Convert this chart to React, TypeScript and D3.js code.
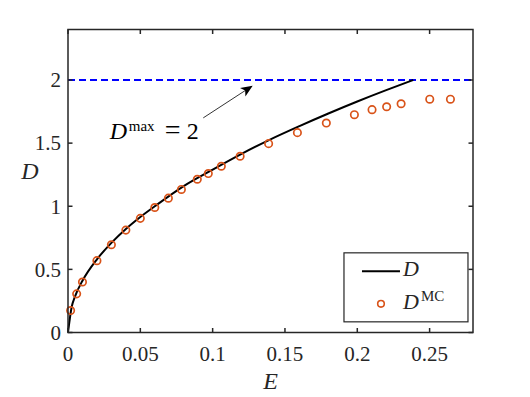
import React, { useEffect, useRef } from "react";
import * as d3 from "d3";

// model curve D(E)
const curveE = [0, 0.0025, 0.005, 0.01, 0.02, 0.03, 0.04, 0.05, 0.06, 0.08, 0.1, 0.12, 0.14, 0.16, 0.18, 0.2, 0.22, 0.2387];
const curveD = [0, 0.2, 0.29, 0.41, 0.58, 0.71, 0.82, 0.915, 1.0, 1.16, 1.29, 1.415, 1.53, 1.635, 1.735, 1.83, 1.92, 2.0];

// Monte Carlo points
const mcE = [0.0018, 0.006, 0.01, 0.02, 0.03, 0.04, 0.05, 0.06, 0.0694, 0.0784, 0.0894, 0.097, 0.106, 0.119, 0.1387, 0.1586, 0.1786, 0.198, 0.2102, 0.2203, 0.2303, 0.2501, 0.2644];
const mcD = [0.174, 0.306, 0.4, 0.569, 0.695, 0.811, 0.904, 0.99, 1.064, 1.133, 1.214, 1.259, 1.317, 1.396, 1.496, 1.583, 1.659, 1.725, 1.765, 1.788, 1.812, 1.848, 1.848];

const xTicks = [0, 0.05, 0.1, 0.15, 0.2, 0.25];
const xTickLabels = ["0", "0.05", "0.1", "0.15", "0.2", "0.25"];
const yTicks = [0, 0.5, 1, 1.5, 2];
const yTickLabels = ["0", "0.5", "1", "1.5", "2"];
const dMax = 2;

const W = 530;
const H = 397;
const FONT = "'Liberation Serif', 'Times New Roman', serif";
const AXIS = "#262626";
const ORANGE = "#D95319";

export default function App() {
  const ref = useRef<SVGSVGElement>(null);

  useEffect(() => {
    const svg = d3.select(ref.current);
    svg.selectAll("*").remove();

    const margin = { left: 68, right: 57, top: 29.5, bottom: 64.5 };
    const width = W - margin.left - margin.right;
    const height = H - margin.top - margin.bottom;

    const x = d3.scaleLinear().domain([0, 0.28]).range([0, width]);
    const y = d3.scaleLinear().domain([0, 2.4]).range([height, 0]);

    const defs = svg.append("defs");
    defs.append("marker")
      .attr("id", "arrow")
      .attr("viewBox", "0 0 10 10")
      .attr("refX", 9)
      .attr("refY", 5)
      .attr("markerWidth", 12)
      .attr("markerHeight", 12)
      .attr("markerUnits", "userSpaceOnUse")
      .attr("orient", "auto")
      .append("path")
      .attr("d", "M0,0.8 L10,5 L0,9.2 L2.5,5 Z")
      .attr("fill", "#000");

    const g = svg.append("g")
      .attr("transform", `translate(${margin.left},${margin.top})`)
      .style("font-family", FONT);

    // dashed D^max line
    g.append("line")
      .attr("x1", x(0))
      .attr("x2", x(0.28))
      .attr("y1", y(dMax))
      .attr("y2", y(dMax))
      .attr("stroke", "#0000ff")
      .attr("stroke-width", 2)
      .attr("stroke-dasharray", "7,4");

    // curve
    const line = d3.line<number>()
      .x((_, i) => x(curveE[i]))
      .y(d => y(d))
      .curve(d3.curveMonotoneX);

    g.append("path")
      .datum(curveD)
      .attr("d", line)
      .attr("fill", "none")
      .attr("stroke", "#000")
      .attr("stroke-width", 2);

    // MC markers
    g.selectAll("circle.mc")
      .data(mcD)
      .enter()
      .append("circle")
      .attr("class", "mc")
      .attr("cx", (_, i) => x(mcE[i]))
      .attr("cy", d => y(d))
      .attr("r", 3.7)
      .attr("fill", "none")
      .attr("stroke", ORANGE)
      .attr("stroke-width", 1.7);

    // axes box with inward ticks
    const tickLen = 4.5;
    const axisG = g.append("g").attr("stroke", AXIS).attr("stroke-width", 1.5).attr("fill", "none");
    axisG.append("rect").attr("x", 0).attr("y", 0).attr("width", width).attr("height", height);
    xTicks.forEach(t => {
      axisG.append("line").attr("x1", x(t)).attr("x2", x(t)).attr("y1", height).attr("y2", height - tickLen);
      axisG.append("line").attr("x1", x(t)).attr("x2", x(t)).attr("y1", 0).attr("y2", tickLen);
    });
    yTicks.forEach(t => {
      axisG.append("line").attr("x1", 0).attr("x2", tickLen).attr("y1", y(t)).attr("y2", y(t));
      axisG.append("line").attr("x1", width).attr("x2", width - tickLen).attr("y1", y(t)).attr("y2", y(t));
    });

    // tick labels
    g.selectAll("text.xt")
      .data(xTicks)
      .enter()
      .append("text")
      .attr("x", d => x(d))
      .attr("y", height + 28.5)
      .attr("text-anchor", "middle")
      .style("font-size", "21px")
      .attr("fill", AXIS)
      .text((_, i) => xTickLabels[i]);

    g.selectAll("text.yt")
      .data(yTicks)
      .enter()
      .append("text")
      .attr("x", -7)
      .attr("y", d => y(d) + 7.3)
      .attr("text-anchor", "end")
      .style("font-size", "21px")
      .attr("fill", AXIS)
      .text((_, i) => yTickLabels[i]);

    // axis labels
    g.append("text")
      .attr("x", width / 2)
      .attr("y", height + 56)
      .attr("text-anchor", "middle")
      .style("font-style", "italic")
      .style("font-size", "24px")
      .attr("fill", AXIS)
      .text("E");

    g.append("text")
      .attr("x", -38)
      .attr("y", y(1.3) + 11)
      .attr("text-anchor", "middle")
      .style("font-style", "italic")
      .style("font-size", "24px")
      .attr("fill", AXIS)
      .text("D");

    // annotation
    g.append("line")
      .attr("x1", x(0.0935))
      .attr("y1", y(1.7))
      .attr("x2", x(0.127))
      .attr("y2", y(1.95))
      .attr("stroke", "#000")
      .attr("stroke-width", 0.8)
      .attr("marker-end", "url(#arrow)");

    const annX = x(0.0289);
    const annY = y(1.53);
    const ann = g.append("text")
      .attr("y", annY)
      .style("font-size", "24px")
      .attr("fill", "#000");
    ann.append("tspan").attr("x", annX).style("font-style", "italic").text("D");
    ann.append("tspan").attr("x", annX + 19).style("font-size", "15px").attr("dy", -8).text("max");
    ann.append("tspan").attr("x", annX + 55).attr("dy", 8).style("font-size", "28px").text("=");
    ann.append("tspan").attr("x", annX + 77).text("2");

    // legend
    const lg = g.append("g").attr("transform", `translate(${x(0.1908)},${y(0.631)})`);
    lg.append("rect")
      .attr("width", 124)
      .attr("height", 69)
      .attr("fill", "#fff")
      .attr("stroke", AXIS)
      .attr("stroke-width", 1.2);
    lg.append("line")
      .attr("x1", 18).attr("x2", 56)
      .attr("y1", 18.5).attr("y2", 18.5)
      .attr("stroke", "#000")
      .attr("stroke-width", 2);
    lg.append("text")
      .attr("x", 59)
      .attr("y", 23.5)
      .style("font-style", "italic")
      .style("font-size", "22px")
      .attr("fill", AXIS)
      .text("D");
    lg.append("circle")
      .attr("cx", 37)
      .attr("cy", 51)
      .attr("r", 3.3)
      .attr("fill", "none")
      .attr("stroke", ORANGE)
      .attr("stroke-width", 1.6);
    const mcText = lg.append("text")
      .attr("y", 56.5)
      .style("font-size", "22px")
      .attr("fill", AXIS);
    mcText.append("tspan").attr("x", 59).style("font-style", "italic").text("D");
    mcText.append("tspan").attr("x", 77).style("font-size", "15px").attr("dy", -8).text("MC");
  }, []);

  return (
    <div style={{ position: "absolute", left: 0, top: 0 }}>
      <svg ref={ref} width={W} height={H} style={{ display: "block", background: "#fff" }} />
    </div>
  );
}
